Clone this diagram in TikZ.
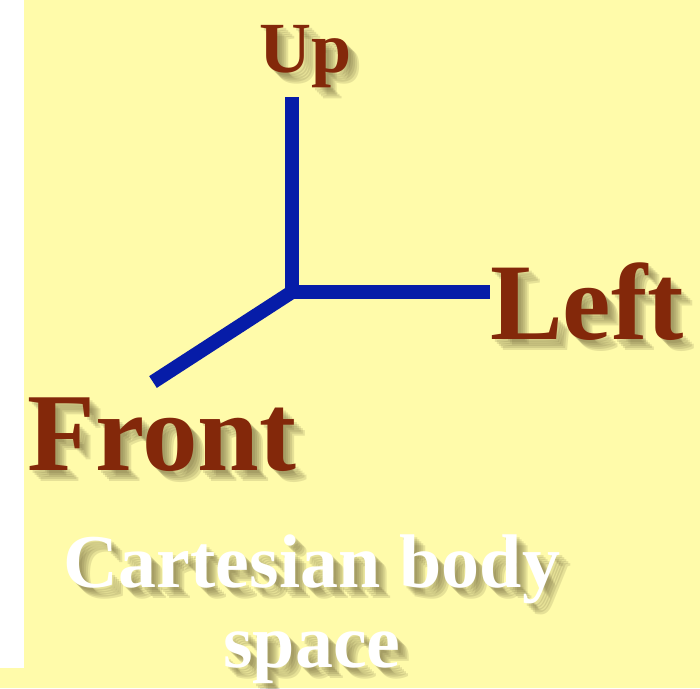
\documentclass[tikz,border=0pt]{standalone}
\usepackage{fontspec}
\setmainfont{Liberation Serif}
\usetikzlibrary{calc}

\definecolor{slidebg}{RGB}{255,251,170}
\definecolor{axisblue}{RGB}{6,28,168}
\definecolor{labelred}{RGB}{131,40,10}
\definecolor{shadecol}{RGB}{105,95,55}

% label with a soft drop shadow: name, position, anchor, style, text
\newcommand{\shadowlabel}[5]{%
  \foreach \s in {3,5,7,9,11} {
    \node[#4, anchor=#3, text=shadecol, text opacity=0.16] at ($(#2)+(\s,\s)$) {#5};
  }
  \node[#4, anchor=#3] (#1) at (#2) {#5};
}

\begin{document}
\begin{tikzpicture}[
  x=1pt, y=-1pt,
  axisline/.style={draw=axisblue, line width=14pt, line cap=butt, line join=miter},
  dirlabel/.style={inner sep=0pt, text=labelred, font=\bfseries},
  titlelabel/.style={inner sep=0pt, text=white, font=\bfseries\fontsize{76}{80}\selectfont, align=center}
]
  \useasboundingbox (0,0) rectangle (700,688);
  \fill[slidebg] (0,0) rectangle (700,688);
  \fill[white] (0,0) rectangle (24,668);

  % axes
  \coordinate (origin) at (292,292);
  \coordinate (upend) at (292,97);
  \coordinate (leftend) at (490,292);
  \coordinate (frontend) at (153,382);
  \draw[axisline] (upend) -- (origin) -- (leftend);
  \draw[axisline] (origin) -- (frontend);

  % labels
  \shadowlabel{uplab}{306,72}{base}{dirlabel, font=\bfseries\fontsize{72}{72}\selectfont}{Up}
  \shadowlabel{leftlab}{490,339}{base west}{dirlabel, font=\bfseries\fontsize{109}{109}\selectfont}{Left}
  \shadowlabel{frontlab}{27,470}{base west}{dirlabel, font=\bfseries\fontsize{111}{111}\selectfont}{Front}
  \shadowlabel{titlelab}{312,667}{base}{titlelabel}{Cartesian body\\space}
\end{tikzpicture}
\end{document}
